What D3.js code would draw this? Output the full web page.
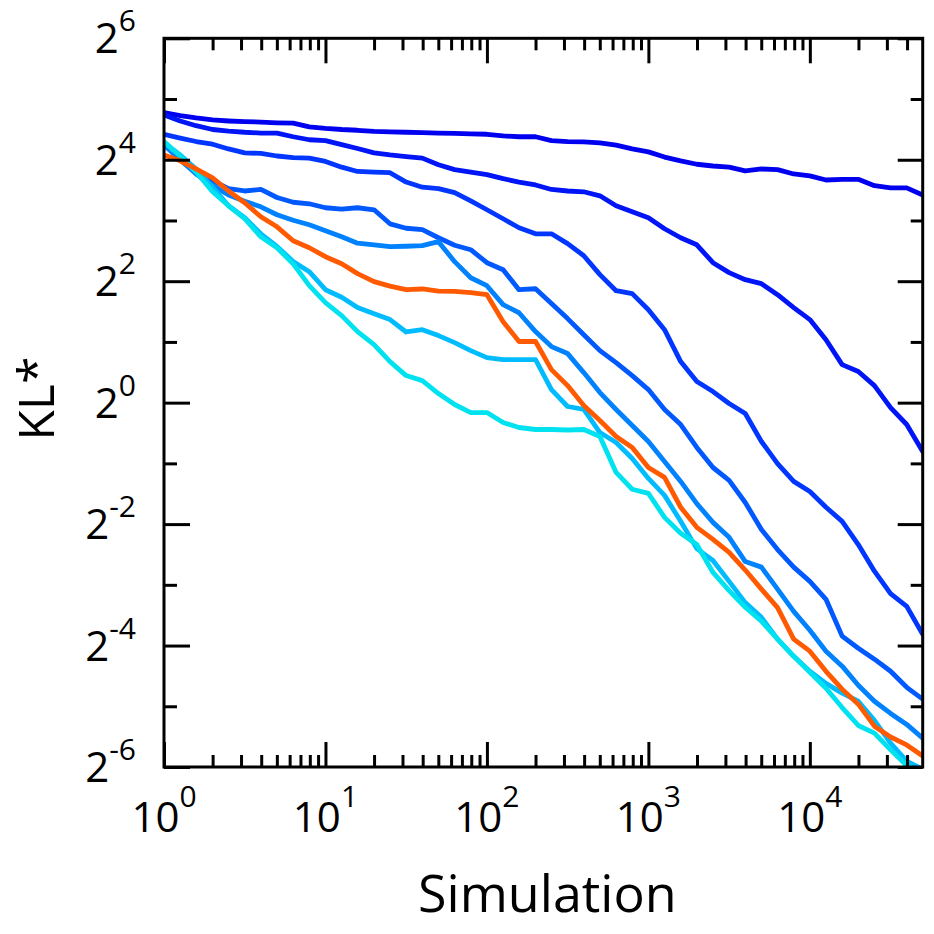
<!DOCTYPE html>
<html>
<head>
<meta charset="utf-8">
<script src="https://cdn.jsdelivr.net/npm/d3@7.9.0/dist/d3.min.js"></script>
<style>
  body { margin: 0; background: #fff; }
  text { font-family: "Open Sans", sans-serif; fill: #000; }
</style>
</head>
<body>
<svg id="chart" width="934" height="934"></svg>
<script>
// simulation counts (x) shared by every run
const sims = [1, 1.26, 1.58, 2, 2.51, 3.16, 3.98, 5.01, 6.31, 7.94,
  10, 12.6, 15.8, 20, 25.1, 31.6, 39.8, 50.1, 63.1, 79.4,
  100, 126, 158, 200, 251, 316, 398, 501, 631, 794,
  1000, 1259, 1585, 1995, 2512, 3162, 3981, 5012, 6310, 7943,
  10000, 12589, 15849, 19953, 25119, 31623, 39811, 50000];

// KL* for each run
const run1 = [27.4, 26.5, 25.8, 25.2, 24.9, 24.7, 24.6, 24.4, 24.3, 23.3,
  22.9, 22.6, 22.4, 22.1, 22.0, 21.9, 21.8, 21.7, 21.6, 21.5,
  21.4, 21.0, 20.8, 20.8, 19.9, 19.7, 19.6, 19.4, 18.9, 18.1,
  17.5, 16.5, 15.8, 15.2, 14.9, 14.7, 14.1, 14.4, 14.3, 13.6,
  13.3, 12.7, 12.8, 12.8, 11.9, 11.6, 11.6, 10.7];
const run2 = [26.7, 24.9, 23.6, 22.6, 22.2, 21.9, 21.7, 21.7, 20.8, 20.1,
  19.9, 19.0, 18.2, 17.3, 16.9, 16.6, 16.3, 15.1, 14.3, 13.9,
  13.5, 12.9, 12.4, 12.0, 11.4, 11.2, 11.1, 10.6, 9.46, 8.83,
  8.25, 7.28, 6.57, 6.06, 4.94, 4.41, 4.07, 3.89, 3.43, 2.96,
  2.58, 2.05, 1.544, 1.426, 1.215, 0.945, 0.779, 0.573];
const run3 = [21.4, 20.5, 19.7, 19.1, 18.1, 17.3, 17.2, 16.7, 16.4, 16.3,
  15.7, 14.7, 14.0, 13.9, 13.8, 12.4, 11.7, 11.5, 11.0, 10.0,
  9.04, 8.16, 7.36, 6.87, 6.87, 6.14, 5.35, 4.31, 3.59, 3.47,
  2.89, 2.30, 1.598, 1.272, 1.135, 0.990, 0.883, 0.642, 0.499, 0.407,
  0.363, 0.303, 0.258, 0.198, 0.146, 0.113, 0.0977, 0.0711];
const run4 = [19.0, 16.0, 13.9, 12.6, 11.5, 11.2, 11.4, 10.4, 9.85, 9.68,
  9.25, 9.11, 9.25, 9.04, 7.70, 7.32, 7.20, 6.57, 6.03, 5.73,
  4.94, 4.56, 3.63, 3.67, 3.10, 2.61, 2.17, 1.811, 1.580, 1.362,
  1.161, 0.925, 0.779, 0.600, 0.477, 0.412, 0.320, 0.235, 0.187, 0.153,
  0.130, 0.106, 0.0696, 0.0606, 0.0535, 0.0466, 0.0388, 0.0339];
const run5 = [19.0, 16.0, 13.6, 11.9, 10.7, 9.96, 9.35, 8.54, 8.02, 7.62,
  7.12, 6.64, 6.17, 6.06, 5.93, 5.96, 6.00, 6.28, 5.00, 4.16,
  3.80, 3.06, 2.79, 2.25, 1.896, 1.751, 1.409, 1.122, 0.925, 0.770,
  0.642, 0.511, 0.407, 0.316, 0.255, 0.215, 0.163, 0.153, 0.119, 0.0923,
  0.0744, 0.0586, 0.0494, 0.0397, 0.0331, 0.0288, 0.0254, 0.0217];
const run6 = [16.9, 15.8, 14.4, 13.0, 11.2, 9.79, 8.35, 7.44, 6.35, 5.86,
  5.29, 4.88, 4.36, 3.98, 3.78, 3.63, 3.66, 3.57, 3.56, 3.51,
  3.43, 2.52, 2.01, 2.01, 1.458, 1.215, 0.967, 0.816, 0.679, 0.600,
  0.477, 0.426, 0.303, 0.241, 0.210, 0.181, 0.148, 0.119, 0.0964, 0.0673,
  0.0586, 0.0466, 0.0380, 0.0320, 0.0249, 0.0220, 0.0201, 0.0177];
const run7 = [19.4, 16.9, 14.4, 11.7, 9.46, 8.25, 6.87, 5.95, 5.01, 4.46,
  3.63, 3.33, 2.96, 2.76, 2.58, 2.24, 2.30, 2.15, 1.984, 1.811,
  1.672, 1.635, 1.635, 1.635, 1.161, 0.957, 0.925, 0.711, 0.635, 0.529,
  0.421, 0.347, 0.258, 0.189, 0.165, 0.130, 0.102, 0.0862, 0.0673, 0.0553,
  0.0466, 0.0406, 0.0363, 0.0331, 0.0266, 0.0205, 0.0167, 0.0152];
const run8 = [19.7, 16.7, 13.9, 11.1, 9.46, 8.16, 6.64, 5.86, 4.88, 3.80,
  3.13, 2.70, 2.25, 1.940, 1.598, 1.362, 1.286, 1.110, 0.979, 0.893,
  0.893, 0.797, 0.753, 0.736, 0.736, 0.732, 0.736, 0.679, 0.451, 0.372,
  0.355, 0.270, 0.225, 0.198, 0.144, 0.117, 0.0968, 0.0825, 0.0673, 0.0553,
  0.0461, 0.0384, 0.0308, 0.0251, 0.0230, 0.0190, 0.0159, 0.0144];

const runColors = ["#0000f0", "#0014f8", "#0036ff", "#0058ff", "#0082ff", "#ff5a00", "#00bcff", "#00e2f0"];
const drawOrder = [0, 1, 2, 3, 4, 6, 7, 5]; // orange on top

const xTickExp = [0, 1, 2, 3, 4];
const yTickExp = [-6, -4, -2, 0, 2, 4, 6];

const runs = [run1, run2, run3, run4, run5, run6, run7, run8];

const plot = { left: 164, right: 922.7, top: 38.3, bottom: 767 };
const svg = d3.select("#chart");

const x = d3.scaleLog().domain([1, 50000]).range([plot.left, plot.right]);
const y = d3.scaleLog().base(2).domain([2 ** -6, 2 ** 6]).range([plot.bottom, plot.top]);

svg.append("defs").append("clipPath").attr("id", "plotClip")
  .append("rect")
  .attr("x", plot.left).attr("y", plot.top)
  .attr("width", plot.right - plot.left).attr("height", plot.bottom - plot.top);

// lines
const line = d3.line()
  .x((d, i) => x(sims[i]))
  .y(d => y(d));

const lineGroup = svg.append("g").attr("clip-path", "url(#plotClip)");
drawOrder.forEach(i => {
  lineGroup.append("path")
    .attr("d", line(runs[i]))
    .attr("fill", "none")
    .attr("stroke", runColors[i])
    .attr("stroke-width", 4.8)
    .attr("stroke-linejoin", "round")
    .attr("stroke-linecap", "round");
});

// ticks
const xMajor = xTickExp.map(e => 10 ** e);
const xMinor = x.ticks().filter(v => !xMajor.includes(v) && v < 50000);
const yMajor = yTickExp.map(e => 2 ** e);
const yMinor = d3.range(-5, 6, 2).map(e => 2 ** e);

function addAxis(axis, tx, ty) {
  const g = svg.append("g")
    .attr("transform", `translate(${tx},${ty})`)
    .call(axis.tickFormat(""));
  g.select(".domain").remove();
  g.selectAll(".tick line").attr("stroke", "#000").attr("stroke-width", 3);
}

addAxis(d3.axisBottom(x).tickValues(xMajor).tickSize(-25), 0, plot.bottom);
addAxis(d3.axisBottom(x).tickValues(xMinor).tickSize(-12), 0, plot.bottom);
addAxis(d3.axisTop(x).tickValues(xMajor).tickSize(-25), 0, plot.top);
addAxis(d3.axisTop(x).tickValues(xMinor).tickSize(-12), 0, plot.top);
addAxis(d3.axisLeft(y).tickValues(yMajor).tickSize(-26), plot.left, 0);
addAxis(d3.axisLeft(y).tickValues(yMinor).tickSize(-13), plot.left, 0);
addAxis(d3.axisRight(y).tickValues(yMajor).tickSize(-25), plot.right, 0);
addAxis(d3.axisRight(y).tickValues(yMinor).tickSize(-12), plot.right, 0);

// frame
svg.append("rect")
  .attr("x", plot.left).attr("y", plot.top)
  .attr("width", plot.right - plot.left).attr("height", plot.bottom - plot.top)
  .attr("fill", "none")
  .attr("stroke", "#000")
  .attr("stroke-width", 3);

// tick labels
xTickExp.forEach(e => {
  const t = svg.append("text")
    .attr("x", x(10 ** e))
    .attr("y", plot.bottom + 65)
    .attr("text-anchor", "middle")
    .attr("font-size", 42);
  t.append("tspan").text("10");
  t.append("tspan").attr("dy", -25).attr("font-size", 30).text(e);
});

yTickExp.forEach(e => {
  const t = svg.append("text")
    .attr("x", 136)
    .attr("y", y(2 ** e) + 15)
    .attr("text-anchor", "end")
    .attr("font-size", 42);
  t.append("tspan").text("2");
  t.append("tspan").attr("dy", -22).attr("font-size", 30).text(e);
});

// axis titles
svg.append("text")
  .attr("x", (plot.left + plot.right) / 2 + 4)
  .attr("y", 912)
  .attr("text-anchor", "middle")
  .attr("font-size", 52)
  .text("Simulation");

svg.append("text")
  .attr("transform", `translate(54,${(plot.top + plot.bottom) / 2 - 4}) rotate(-90)`)
  .attr("text-anchor", "middle")
  .attr("font-size", 50)
  .text("KL*");
</script>
</body>
</html>
